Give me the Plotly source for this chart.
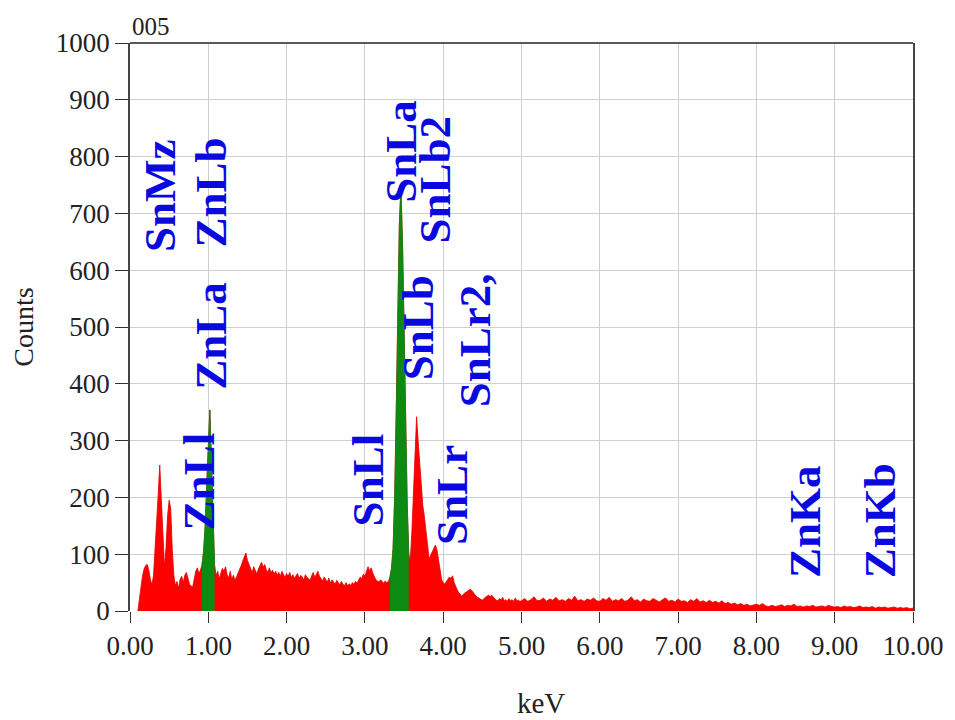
import numpy as np
import plotly.graph_objects as go

# EDS spectrum, sample 005 — counts per channel
# channels 0.10 .. 4.98 keV, step 0.02 keV
low_start, low_step = 0.10, 0.02
counts_low = [
    0, 22, 48, 62, 74, 80, 82, 72, 56, 46,
    62, 105, 165, 205, 257, 198, 135, 78, 112, 168,
    195, 180, 108, 62, 45, 52, 40, 56, 61, 50,
    63, 68, 58, 47, 44, 42, 56, 70, 76, 66,
    72, 82, 105, 150, 225, 305, 354, 265, 150, 82,
    62, 70, 57, 66, 75, 70, 78, 64, 58, 70,
    56, 63, 54, 60, 66, 72, 80, 88, 96, 102,
    89, 82, 74, 68, 78, 71, 65, 74, 80, 86,
    77, 82, 73, 68, 76, 67, 72, 65, 70, 63,
    68, 61, 70, 63, 59, 66, 61, 68, 59, 64,
    57, 62, 66, 57, 63, 60, 55, 64, 59, 57,
    54, 62, 68, 59, 66, 70, 61, 57, 53, 60,
    55, 51, 58, 49, 55, 51, 47, 54, 49, 46,
    52, 47, 45, 50, 44, 48, 45, 50, 47, 52,
    49, 55, 60, 57, 65, 61, 70, 78, 71, 76,
    67, 59, 55, 53, 51, 55, 51, 49, 53, 50,
    52, 60, 75, 110, 200, 340, 520, 680, 745, 650,
    500, 330, 190, 100, 90, 140, 210, 300, 342, 300,
    255, 215, 185, 166, 140, 110, 92, 98, 105, 110,
    116, 108, 88, 68, 55, 50, 47, 52, 56, 60,
    57, 62, 50, 42, 37, 32, 29, 26, 30, 32,
    34, 36, 38, 37, 33, 30, 26, 24, 22, 20,
    19, 22, 24, 27, 28, 25, 28, 24, 21, 19,
    18, 22, 19, 24, 18, 20, 17, 22, 18, 20,
    17, 23, 18, 19, 17,
]

# channels 5.00 .. 10.00 keV, step 0.04 keV
high_start, high_step = 5.00, 0.04
counts_high = [
    18, 22, 17, 20, 25, 18, 19, 23, 17, 21,
    19, 24, 18, 20, 17, 22, 19, 26, 18, 20,
    17, 21, 19, 23, 18, 17, 22, 19, 24, 17,
    20, 18, 22, 17, 19, 25, 18, 20, 16, 21,
    18, 17, 22, 19, 16, 20, 23, 17, 19, 16,
    21, 17, 18, 15, 20, 17, 22, 16, 18, 15,
    19, 15, 17, 14, 18, 13, 15, 12, 14, 11,
    13, 10, 12, 9, 11, 12, 10, 13, 9, 8,
    10, 8, 9, 11, 8, 10, 9, 12, 8, 9,
    7, 9, 8, 10, 7, 8, 9, 7, 10, 8,
    7, 8, 6, 9, 7, 8, 6, 7, 9, 6,
    7, 6, 8, 5, 7, 6, 7, 5, 6, 7,
    5, 6, 5, 6, 4, 5,
]

# integration windows shown in green (ZnLa, SnLa)
roi_windows = [(0.92, 1.08), (3.32, 3.56)]

# peak identifications: label, line energy (keV), label centre height (counts)
peak_labels = ["SnMz", "ZnLb", "ZnLa", "ZnLl", "SnLl", "SnLa", "SnLb2",
               "SnLb", "SnLr2,", "SnLr", "ZnKa", "ZnKb"]
peak_energy = [0.38, 1.03, 1.03, 0.88, 3.04, 3.46, 3.89,
               3.68, 4.41, 4.11, 8.63, 9.58]
peak_label_y = [732, 736, 484, 228, 230, 810, 759,
                498, 477, 204, 158, 158]

x_ticks = [0, 1, 2, 3, 4, 5, 6, 7, 8, 9, 10]
y_ticks = [0, 100, 200, 300, 400, 500, 600, 700, 800, 900, 1000]

energy_low = np.round(low_start + low_step * np.arange(len(counts_low)), 2)
energy_high = np.round(high_start + high_step * np.arange(len(counts_high)), 2)
energy = np.concatenate([energy_low, energy_high])
counts = np.array(counts_low + counts_high, dtype=float)

RED = "#ff0000"
GREEN = "#0c8a12"
BLUE = "#0a0ae0"
SERIF = "Liberation Serif"
INK = "#222"

fig = go.Figure()
fig.add_trace(go.Scatter(
    x=energy, y=counts, mode="lines", fill="tozeroy",
    line=dict(color="#e00000", width=0.8), fillcolor=RED,
    hoverinfo="x+y",
))
for lo, hi in roi_windows:
    m = (energy >= lo - 1e-9) & (energy <= hi + 1e-9)
    fig.add_trace(go.Scatter(
        x=energy[m], y=counts[m], mode="lines", fill="tozeroy",
        line=dict(color=GREEN, width=0.8), fillcolor=GREEN,
        hoverinfo="x+y",
    ))

for name, ex, ey in zip(peak_labels, peak_energy, peak_label_y):
    fig.add_annotation(
        x=ex, y=ey, xref="x", yref="y", text=f"<b>{name}</b>",
        textangle=-90, showarrow=False, xanchor="center", yanchor="middle",
        font=dict(family=SERIF, size=45, color=BLUE),
    )

fig.add_annotation(x=0, y=1, xref="x", yref="paper", text="005",
                   showarrow=False, xanchor="left", yanchor="bottom", yshift=1,
                   font=dict(family=SERIF, size=25, color=INK))
fig.add_annotation(x=5.25, y=0, xref="x", yref="paper", text="keV",
                   showarrow=False, xanchor="center", yanchor="middle", yshift=-92,
                   font=dict(family=SERIF, size=29, color=INK))

# top frame line
fig.add_shape(type="line", xref="paper", yref="paper", x0=0, x1=1, y0=1, y1=1,
              line=dict(color=INK, width=1.5))

fig.update_xaxes(
    range=[0, 10], tickvals=x_ticks, tickformat=".2f",
    ticks="outside", ticklen=11, tickwidth=1.2, tickcolor="#333",
    showgrid=True, gridcolor="#cfcfcf", gridwidth=1,
    showline=False, zeroline=False,
    tickfont=dict(family=SERIF, size=27, color=INK),
)
fig.update_yaxes(
    range=[0, 1000], tickvals=y_ticks,
    ticks="outside", ticklen=13, tickwidth=1.2, tickcolor="#333",
    showgrid=True, gridcolor="#cfcfcf", gridwidth=1,
    showline=True, linecolor="#444", linewidth=1.5, mirror=True,
    zeroline=False,
    title=dict(text="Counts", font=dict(family=SERIF, size=28, color=INK),
               standoff=14),
    tickfont=dict(family=SERIF, size=27, color=INK),
)
fig.update_layout(
    width=955, height=720,
    margin=dict(l=130, r=35, t=43, b=109),
    plot_bgcolor="white", paper_bgcolor="white",
    showlegend=False,
    font=dict(family=SERIF),
)

fig.write_html("out.html")
